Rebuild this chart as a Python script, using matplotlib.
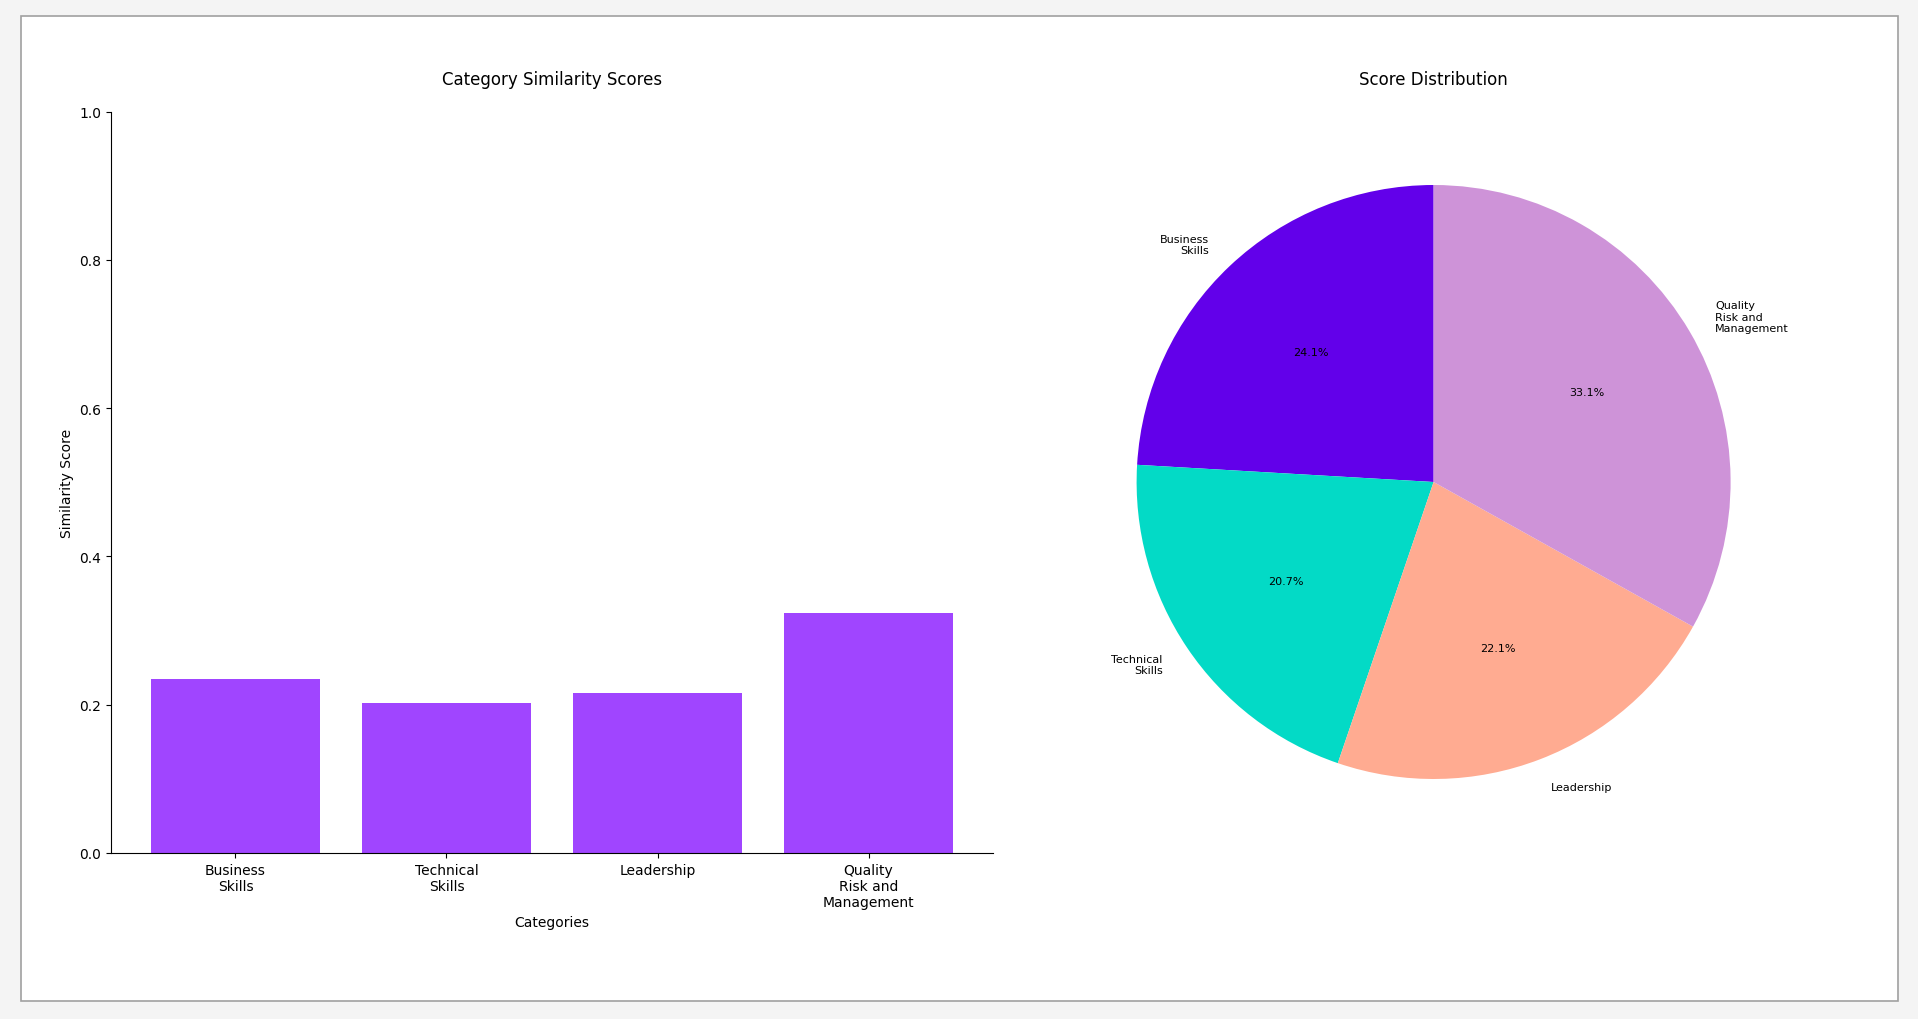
import matplotlib
matplotlib.use("Agg")
from matplotlib import pyplot as plt
from matplotlib.patches import Rectangle

categories = ['Business\nSkills', 'Technical\nSkills', 'Leadership', 'Quality\nRisk and\nManagement']
scores = [0.235, 0.202, 0.216, 0.323]
pie_colors = ['#6200ea', '#03dac6', '#ffab91', '#ce93d8']
bar_color = '#a045ff'

W, H = 1918, 1020
fig = plt.figure(figsize=(W / 100, H / 100), dpi=100)
fig.patch.set_facecolor('#f4f4f4')

# white card with grey border, kept behind the axes
card = Rectangle((21 / W, 1 - 1002 / H), (1898 - 21) / W, (1002 - 17) / H,
                 transform=fig.transFigure, facecolor='white',
                 edgecolor='#a0a0a0', linewidth=1.2, zorder=-10)
fig.patches.append(card)

# Bar chart
ax1 = fig.add_axes([111 / W, 1 - 854 / H, (993 - 111) / W, (854 - 112.5) / H])
ax1.bar(range(len(categories)), scores, color=bar_color, width=0.8)
ax1.set_xticks(range(len(categories)))
ax1.set_xticklabels(categories, fontsize=10)
ax1.set_ylim(0, 1)
ax1.set_yticks([0.0, 0.2, 0.4, 0.6, 0.8, 1.0])
ax1.set_ylabel('Similarity Score', fontsize=10)
ax1.set_xlabel('Categories', fontsize=10)
ax1.set_title('Category Similarity Scores', fontsize=12, pad=20)
ax1.spines['top'].set_visible(False)
ax1.spines['right'].set_visible(False)
ax1.patch.set_alpha(0)

# Pie chart
R = 297
cx, cy = 1433.6, 483
side = 2 * 1.25 * R
ax2 = fig.add_axes([(cx - side / 2) / W, 1 - (cy + side / 2) / H, side / W, side / H])
wedges, texts, autotexts = ax2.pie(scores, labels=categories, colors=pie_colors,
                                   autopct='%1.1f%%', startangle=90,
                                   textprops={'fontsize': 8})
ax2.set_xlim(-1.25, 1.25)
ax2.set_ylim(-1.25, 1.25)
ax2.set_aspect('equal')
ax2.set_title('Score Distribution', fontsize=12, pad=19.5)
ax2.patch.set_alpha(0)

fig.savefig('out.png', dpi=100, facecolor=fig.get_facecolor())
